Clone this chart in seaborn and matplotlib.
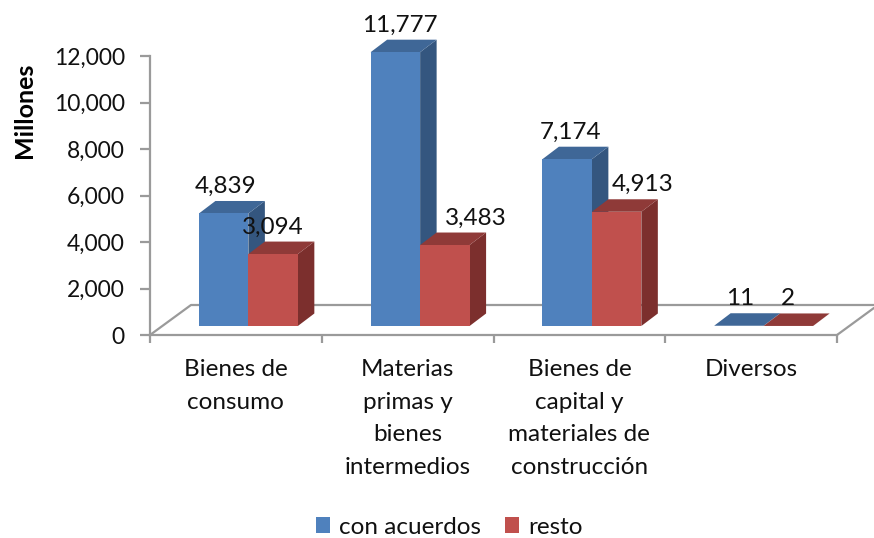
import pandas as pd
import matplotlib
matplotlib.use("Agg")
import matplotlib.pyplot as plt
import matplotlib.transforms as mtrans
from matplotlib.patches import Polygon
from matplotlib.lines import Line2D
import seaborn as sns

# data
categorias = ["Bienes de\nconsumo", "Materias\nprimas y\nbienes\nintermedios",
              "Bienes de\ncapital y\nmateriales de\nconstrucción", "Diversos"]
con_acuerdos = [4839, 11777, 7174, 11]
resto = [3094, 3483, 4913, 2]
y_ticks = [0, 2000, 4000, 6000, 8000, 10000, 12000]

sns.set_theme(style="white")
plt.rcParams["font.family"] = ["Lato", "DejaVu Sans"]

df = pd.DataFrame({
    "categoria": categorias * 2,
    "serie": ["con acuerdos"] * 4 + ["resto"] * 4,
    "valor": con_acuerdos + resto,
})

W, H = 874, 538
fig = plt.figure(figsize=(W / 100, H / 100), dpi=100)
ax = fig.add_axes([150 / W, (H - 335) / H, 687 / W, 279 / H])

colores = {"con acuerdos": "#4F81BD", "resto": "#C0504D"}
sns.barplot(data=df, x="categoria", y="valor", hue="serie", palette=colores,
            width=0.576, saturation=1, linewidth=0, ax=ax)
ax.set_xlim(-0.5, 3.5)
ax.set_ylim(0, 12000)

GRIS = "#9a9a9a"
sns.despine(ax=ax, top=True, right=True)
for s in ["left", "bottom"]:
    ax.spines[s].set_color(GRIS)
    ax.spines[s].set_linewidth(1.6)

# the 3d look: bars sit a bit inside the floor, depth goes up and right
px_x = 4 / 687
px_y = 12000 / 279
bar_trans = mtrans.Affine2D().translate(12.5, 9)
trans = ax.transData + bar_trans
depth_x = 16.5 * px_x
depth_y = 12.5 * px_y

# floor
back_x = 41 * px_x
back_y = 30 * px_y
ax.add_line(Line2D([-0.5, -0.5 + back_x, 3.5 + back_x * 0.9], [0, back_y, back_y],
                   color=GRIS, lw=1.6, clip_on=False, zorder=1))
ax.add_line(Line2D([3.5, 3.5 + back_x * 0.9], [0, back_y * 0.9],
                   color=GRIS, lw=1.6, clip_on=False, zorder=1))

caras = {
    "con acuerdos": ("#34567F", "#3F6797"),
    "resto": ("#7C2F2D", "#8F3A38"),
}
# label offset from the bar centre, pixels
label_dx = [[2, 4, 3, 1], [0, 31, 26, 0]]

for i, (serie, cont) in enumerate(zip(["con acuerdos", "resto"], ax.containers)):
    lado, techo = caras[serie]
    z = 3 + i
    for j, bar in enumerate(cont.patches):
        x0 = bar.get_x()
        x1 = x0 + bar.get_width()
        h = bar.get_height()
        side = Polygon([(x1, 0), (x1 + depth_x, depth_y), (x1 + depth_x, h + depth_y), (x1, h)],
                       closed=True, fc=lado, ec="none", transform=trans, clip_on=False, zorder=z)
        top = Polygon([(x0, h), (x0 + depth_x, h + depth_y), (x1 + depth_x, h + depth_y), (x1, h)],
                      closed=True, fc=techo, ec="none", transform=trans, clip_on=False, zorder=z)
        ax.add_patch(side)
        ax.add_patch(top)
        bar.set_transform(trans)
        bar.set_clip_on(False)
        bar.set_edgecolor("none")
        bar.set_zorder(z + 0.1)
        ax.annotate(f"{int(h):,}", xy=((x0 + x1) / 2, h), xycoords=trans,
                    xytext=(label_dx[i][j], 27), textcoords="offset pixels",
                    ha="center", va="center", fontsize=17.5, color="#111111", zorder=10)

# axes text
ax.set_yticks(y_ticks)
ax.set_yticklabels([f"{v:,}" for v in y_ticks])
ax.set_xticks([0, 1, 2, 3])
ax.set_xticklabels(categorias, linespacing=1.7)
ax.set_xticks([-0.5, 0.5, 1.5, 2.5, 3.5], minor=True)
ax.tick_params(axis="y", left=True, length=7, width=1.6, color=GRIS, labelsize=16.5,
               pad=11, labelcolor="#111111")
ax.tick_params(axis="x", which="major", bottom=False, labelsize=17.5, pad=11, labelcolor="#111111")
ax.tick_params(axis="x", which="minor", bottom=True, length=6, width=1.6, color=GRIS)
ax.set_xlabel("")
ax.set_ylabel("Millones", fontsize=18, fontweight="bold", color="black")
ax.yaxis.set_label_coords(-114 / 687, 0.806)

sns.move_legend(ax, "center", bbox_to_anchor=(449 / W, (H - 527) / H),
                bbox_transform=fig.transFigure, ncol=2, title=None, frameon=False,
                fontsize=17.5, handlelength=0.6, handleheight=0.6, handletextpad=0.35,
                columnspacing=1.0, labelcolor="#111111", borderpad=0, borderaxespad=0)

fig.savefig("out.png", dpi=100)
